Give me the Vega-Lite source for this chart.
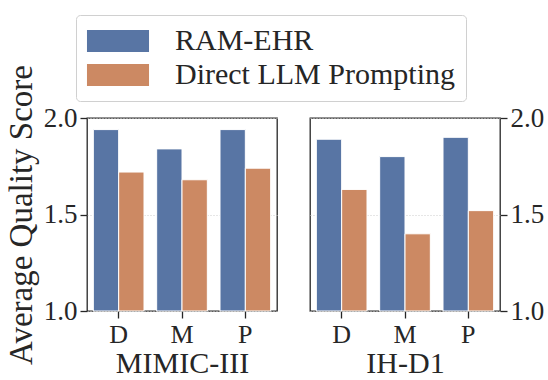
{
  "$schema": "https://vega.github.io/schema/vega-lite/v6.json",
  "padding": {"left": 4, "top": 14, "right": 2, "bottom": 5},
  "background": "white",
  "data": {"values": [
    {"dataset": "MIMIC-III", "cat": "D", "method": "RAM-EHR", "score": 1.94},
    {"dataset": "MIMIC-III", "cat": "D", "method": "Direct LLM Prompting", "score": 1.72},
    {"dataset": "MIMIC-III", "cat": "M", "method": "RAM-EHR", "score": 1.84},
    {"dataset": "MIMIC-III", "cat": "M", "method": "Direct LLM Prompting", "score": 1.68},
    {"dataset": "MIMIC-III", "cat": "P", "method": "RAM-EHR", "score": 1.94},
    {"dataset": "MIMIC-III", "cat": "P", "method": "Direct LLM Prompting", "score": 1.74},
    {"dataset": "IH-D1", "cat": "D", "method": "RAM-EHR", "score": 1.89},
    {"dataset": "IH-D1", "cat": "D", "method": "Direct LLM Prompting", "score": 1.63},
    {"dataset": "IH-D1", "cat": "M", "method": "RAM-EHR", "score": 1.80},
    {"dataset": "IH-D1", "cat": "M", "method": "Direct LLM Prompting", "score": 1.40},
    {"dataset": "IH-D1", "cat": "P", "method": "RAM-EHR", "score": 1.90},
    {"dataset": "IH-D1", "cat": "P", "method": "Direct LLM Prompting", "score": 1.52}
  ]},
  "spacing": 31,
  "hconcat": [
    {
      "width": 190, "height": 193,
      "transform": [{"filter": "datum.dataset === 'MIMIC-III'"}],
      "mark": {"type": "bar", "stroke": "white", "strokeWidth": 1},
      "encoding": {
        "x": {"field": "cat", "type": "nominal", "sort": ["D", "M", "P"], "scale": {"paddingInner": 0.2, "paddingOuter": 0.1}, "axis": {"title": "MIMIC-III", "labelAngle": 0}},
        "xOffset": {"field": "method", "type": "nominal", "sort": ["RAM-EHR", "Direct LLM Prompting"]},
        "y": {"field": "score", "type": "quantitative", "scale": {"domain": [1, 2], "zero": false}, "axis": {"title": "Average Quality Score", "values": [1, 1.5, 2], "format": ".1f"}},
        "y2": {"datum": 1},
        "color": {"field": "method", "type": "nominal", "sort": ["RAM-EHR", "Direct LLM Prompting"], "scale": {"domain": ["RAM-EHR", "Direct LLM Prompting"], "range": ["#5875a4", "#cc8963"]},
          "legend": {"title": null, "orient": "none", "direction": "vertical", "legendX": -11, "legendY": -103,
            "encode": {"symbols": {"update": {"fill": {"signal": "datum.value === 'RAM-EHR' ? '#4c72b0' : '#dd8452'"}, "stroke": {"value": "transparent"}, "opacity": {"value": 1}}}}}}
      }
    },
    {
      "width": 190, "height": 193,
      "transform": [{"filter": "datum.dataset === 'IH-D1'"}],
      "mark": {"type": "bar", "stroke": "white", "strokeWidth": 1},
      "encoding": {
        "x": {"field": "cat", "type": "nominal", "sort": ["D", "M", "P"], "scale": {"paddingInner": 0.2, "paddingOuter": 0.1}, "axis": {"title": "IH-D1", "labelAngle": 0}},
        "xOffset": {"field": "method", "type": "nominal", "sort": ["RAM-EHR", "Direct LLM Prompting"]},
        "y": {"field": "score", "type": "quantitative", "scale": {"domain": [1, 2], "zero": false}, "axis": {"title": null, "orient": "right", "values": [1, 1.5, 2], "format": ".1f"}},
        "y2": {"datum": 1},
        "color": {"field": "method", "type": "nominal", "sort": ["RAM-EHR", "Direct LLM Prompting"], "scale": {"domain": ["RAM-EHR", "Direct LLM Prompting"], "range": ["#5875a4", "#cc8963"]}}
      }
    }
  ],
  "resolve": {"scale": {"y": "independent"}},
  "config": {
    "font": "Liberation Serif",
    "view": {"stroke": "#262626", "strokeWidth": 1.3},
    "axis": {
      "labelFont": "Liberation Serif", "titleFont": "Liberation Serif",
      "labelColor": "#262626", "titleColor": "#262626", "titleFontWeight": "normal",
      "domain": false, "tickColor": "#262626", "tickSize": 7, "tickWidth": 1.3,
      "labelPadding": 3, "grid": false
    },
    "axisX": {"labelFontSize": 26, "titleFontSize": 30, "titlePadding": 1},
    "axisY": {"labelFontSize": 27, "titleFontSize": 33, "grid": true, "gridColor": "#cccccc", "gridDash": [1, 2], "titlePadding": 5},
    "legend": {
      "labelFont": "Liberation Serif", "labelFontSize": 30, "labelColor": "#262626", "labelLimit": 500,
      "symbolType": "M-2.82,-1H2.82V1H-2.82Z", "symbolSize": 484, "symbolStrokeWidth": 0, "symbolOffset": 16,
      "labelOffset": 42, "rowPadding": 4, "padding": 11,
      "strokeColor": "#d0d0d0", "cornerRadius": 4, "fillColor": "white"
    }
  }
}
